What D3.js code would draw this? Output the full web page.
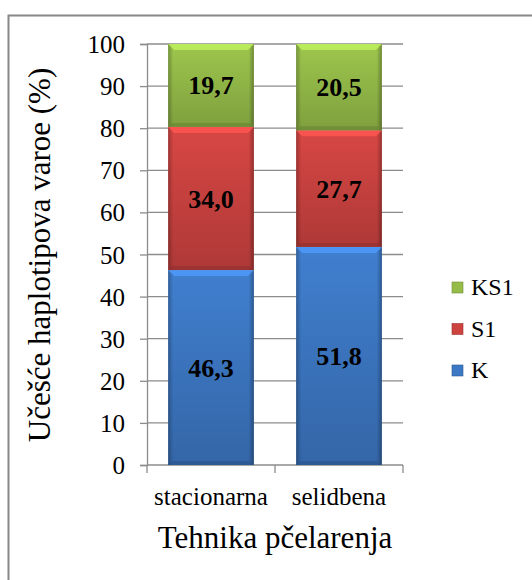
<!DOCTYPE html>
<html>
<head>
<meta charset="utf-8">
<script src="https://cdn.jsdelivr.net/npm/d3@7"></script>
<style>
  body { margin: 0; background: white; }
</style>
</head>
<body>
<div id="chart"></div>
<script>
const width = 532
const height = 580
const serif = "'Liberation Serif'"

const categories = ["stacionarna", "selidbena"]
const seriesNames = ["K", "S1", "KS1"]
const K = [46.3, 51.8]
const S1 = [34.0, 27.7]
const KS1 = [19.7, 20.5]
const yTicks = [0, 10, 20, 30, 40, 50, 60, 70, 80, 90, 100]

const colors = {
    K: "#3D78C4",
    S1: "#CC4340",
    KS1: "#95BC49"
}

let plot = { left: 147, right: 403, top: 44, bottom: 465 }

const svg = d3.select("#chart")
    .append("svg")
    .attr("width", width)
    .attr("height", height)

// outer frame
svg.append("rect")
    .attr("x", 8.5).attr("y", 15.5)
    .attr("width", 600).attr("height", 600)
    .attr("fill", "white")
    .attr("stroke", "#888")
    .attr("stroke-width", 2)

const x = d3.scaleBand()
    .domain(categories)
    .range([plot.left, plot.right])
    .paddingInner(0.33)
    .paddingOuter(0.165)

const y = d3.scaleLinear()
    .domain([0, 100])
    .range([plot.bottom, plot.top])

// gridlines
svg.append("g")
    .selectAll("line")
    .data(yTicks.slice(1))
    .enter()
    .append("line")
    .attr("x1", plot.left).attr("x2", plot.right)
    .attr("y1", d => y(d)).attr("y2", d => y(d))
    .attr("stroke", "#8c8c8c")
    .attr("stroke-width", 1.3)

// y axis
const yAxis = d3.axisLeft(y).tickValues(yTicks).tickSize(7).tickPadding(15)
const gy = svg.append("g")
    .attr("transform", `translate(${plot.left},0)`)
    .call(yAxis)
gy.select(".domain").attr("stroke", "#8c8c8c").attr("stroke-width", 1.3)
gy.selectAll(".tick line").attr("stroke", "#8c8c8c").attr("stroke-width", 1.3)
gy.selectAll(".tick text")
    .attr("fill", "#000")
    .attr("dy", "0.34em")
    .style("font-family", serif)
    .style("font-size", "25px")

// x axis
const gx = svg.append("g")
    .attr("transform", `translate(0,${plot.bottom})`)
gx.append("line")
    .attr("x1", plot.left).attr("x2", plot.right)
    .attr("stroke", "#8c8c8c").attr("stroke-width", 1.3)
gx.selectAll(".xtick")
    .data([0, 1, 2])
    .enter()
    .append("line")
    .attr("x1", i => plot.left + i * x.step())
    .attr("x2", i => plot.left + i * x.step())
    .attr("y1", 0).attr("y2", 8)
    .attr("stroke", "#8c8c8c").attr("stroke-width", 1.3)
gx.selectAll(".xlabel")
    .data(categories)
    .enter()
    .append("text")
    .attr("x", d => x(d) + x.bandwidth() / 2)
    .attr("y", 40)
    .attr("text-anchor", "middle")
    .style("font-family", serif)
    .style("font-size", "25px")
    .text(d => d)

// gradients for bevel look
const defs = svg.append("defs")
seriesNames.forEach(name => {
    const c = d3.color(colors[name])
    const g = defs.append("linearGradient")
        .attr("id", "grad-" + name)
        .attr("x1", 0).attr("x2", 0).attr("y1", 0).attr("y2", 1)
    g.append("stop").attr("offset", "0%").attr("stop-color", c.brighter(0.15))
    g.append("stop").attr("offset", "100%").attr("stop-color", c.darker(0.45))
})
const side = defs.append("linearGradient")
    .attr("id", "side")
    .attr("x1", 0).attr("x2", 1).attr("y1", 0).attr("y2", 0)
side.append("stop").attr("offset", "0%").attr("stop-color", "#000").attr("stop-opacity", 0.25)
side.append("stop").attr("offset", "6%").attr("stop-color", "#000").attr("stop-opacity", 0)
side.append("stop").attr("offset", "94%").attr("stop-color", "#000").attr("stop-opacity", 0)
side.append("stop").attr("offset", "100%").attr("stop-color", "#000").attr("stop-opacity", 0.3)

const table = categories.map((c, i) => ({ cat: c, K: K[i], S1: S1[i], KS1: KS1[i] }))
const stacked = d3.stack().keys(seriesNames)(table)

const segs = svg.append("g")
    .selectAll("g")
    .data(stacked)
    .enter()
    .append("g")
    .selectAll("g")
    .data(s => s.map(d => ({ key: s.key, y0: d[0], y1: d[1], cat: d.data.cat, v: d.data[s.key] })))
    .enter()
    .append("g")

segs.append("rect")
    .attr("x", d => x(d.cat))
    .attr("y", d => y(d.y1))
    .attr("width", x.bandwidth())
    .attr("height", d => y(d.y0) - y(d.y1))
    .attr("fill", d => `url(#grad-${d.key})`)
segs.append("rect")
    .attr("x", d => x(d.cat))
    .attr("y", d => y(d.y1))
    .attr("width", x.bandwidth())
    .attr("height", d => y(d.y0) - y(d.y1))
    .attr("fill", "url(#side)")
// top bevel highlight
segs.append("path")
    .attr("d", d => {
        const x0 = x(d.cat), x1 = x0 + x.bandwidth(), t = y(d.y1)
        return `M${x0},${t}L${x1},${t}L${x1 - 6},${t + 6}L${x0 + 6},${t + 6}Z`
    })
    .attr("fill", d => d3.color(colors[d.key]).brighter(0.7))
    .attr("opacity", 0.85)
// bottom bevel shadow
segs.append("path")
    .attr("d", d => {
        const x0 = x(d.cat), x1 = x0 + x.bandwidth(), b = y(d.y0)
        return `M${x0},${b}L${x1},${b}L${x1 - 4},${b - 4}L${x0 + 4},${b - 4}Z`
    })
    .attr("fill", d => d3.color(colors[d.key]).darker(1))
    .attr("opacity", 0.6)
segs.append("text")
    .attr("x", d => x(d.cat) + x.bandwidth() / 2)
    .attr("y", d => (y(d.y0) + y(d.y1)) / 2 + 9)
    .attr("text-anchor", "middle")
    .style("font-family", serif)
    .style("font-size", "26px")
    .style("font-weight", "bold")
    .text(d => d3.format(".1f")(d.v).replace(".", ","))

// axis titles
svg.append("text")
    .attr("transform", `translate(50,255) rotate(-90)`)
    .attr("text-anchor", "middle")
    .style("font-family", serif)
    .style("font-size", "31px")
    .text("Učešće haplotipova varoe (%)")

svg.append("text")
    .attr("x", (plot.left + plot.right) / 2)
    .attr("y", 548)
    .attr("text-anchor", "middle")
    .style("font-family", serif)
    .style("font-size", "31px")
    .text("Tehnika pčelarenja")

// legend
const legend = svg.append("g").attr("id", "legend")
    .selectAll("g")
    .data(seriesNames.slice().reverse())
    .enter()
    .append("g")
    .attr("transform", (d, i) => `translate(452,${287 + i * 41.5})`)
legend.append("rect")
    .attr("x", 0).attr("y", -5)
    .attr("width", 11).attr("height", 11)
    .attr("fill", d => colors[d])
    .attr("stroke", d => d3.color(colors[d]).darker(0.8))
    .attr("stroke-width", 0.6)
legend.append("text")
    .attr("x", 19)
    .attr("y", 8)
    .style("font-family", serif)
    .style("font-size", "24px")
    .text(d => d)
</script>
</body>
</html>
